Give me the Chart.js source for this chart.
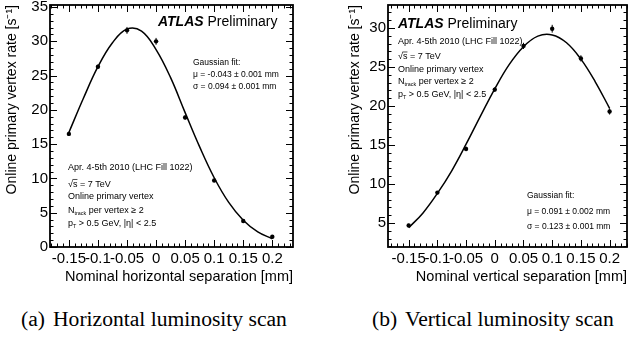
<!DOCTYPE html>
<html>
<head>
<meta charset="utf-8">
<script src="https://cdn.jsdelivr.net/npm/chart.js@4"></script>
<style>
  body { margin:0; width:631px; height:337px; background:#fff; position:relative; overflow:hidden; }
  .panel { position:absolute; top:0; height:290px; }
  .cap { position:absolute; top:309px; font-family:"Liberation Serif", serif; font-size:21.6px; line-height:21px; white-space:nowrap; color:#000; }
</style>
</head>
<body>
<div class="panel" style="left:0;width:315px"><canvas id="hscan"></canvas></div>
<div class="panel" style="left:320px;width:311px"><canvas id="vscan"></canvas></div>
<div class="cap" style="left:21px">(a)</div>
<div class="cap" style="left:53px">Horizontal luminosity scan</div>
<div class="cap" style="left:372px">(b)</div>
<div class="cap" style="left:405px">Vertical luminosity scan</div>
<script>
// beam separation steps [mm]
const sep = [-0.15, -0.1, -0.05, 0, 0.05, 0.1, 0.15, 0.2];
const xTicks = [-0.15, -0.1, -0.05, 0, 0.05, 0.1, 0.15, 0.2];

// horizontal scan
const hRate = [16.5, 26.3, 31.6, 30.0, 18.9, 9.7, 3.8, 1.5];
const hErr = [0.3, 0.3, 0.5, 0.5, 0.3, 0.2, 0.2, 0.2];
const fitSep = [-0.15, -0.125, -0.1, -0.075, -0.05, -0.025, 0, 0.025, 0.05, 0.075, 0.1, 0.125, 0.15, 0.175, 0.2];
const hFit = [16.7, 21.7, 26.3, 29.8, 31.8, 31.5, 28.8, 24.7, 19.6, 14.6, 10.1, 6.5, 3.9, 2.2, 1.2];
const hYTicks = [0, 5, 10, 15, 20, 25, 30, 35];

// vertical scan
const vRate = [4.7, 8.9, 14.5, 22.1, 27.7, 29.9, 26.1, 19.3];
const vErr = [0.2, 0.2, 0.3, 0.3, 0.4, 0.5, 0.4, 0.4];
const vFit = [4.4, 6.3, 8.8, 11.7, 15.1, 18.7, 22.2, 25.3, 27.6, 28.95, 29.1, 28.1, 26.0, 23.1, 19.7];
const vYTicks = [5, 10, 15, 20, 25, 30];

const SANS = '"Liberation Sans", Arial, sans-serif';

const runInfo = [
    [{t: 'Apr. 4-5th 2010 (LHC Fill 1022)'}],
    [{t: '\u221As', over: true}, {t: ' = 7 TeV'}],
    [{t: 'Online primary vertex'}],
    [{t: 'N'}, {t: 'track', sub: true}, {t: ' per vertex \u2265 2'}],
    [{t: 'p'}, {t: 'T', sub: true}, {t: ' > 0.5 GeV, |\u03B7| < 2.5'}]
];

function drawLine(ctx, segs, x, y, size) {
    segs.forEach(s => {
        const fs = s.sub ? size * 0.6 : size;
        ctx.font = fs + 'px ' + SANS;
        const dy = s.sub ? size * 0.25 : 0;
        ctx.fillText(s.t, x, y + dy);
        const w = ctx.measureText(s.t).width;
        if (s.over) {
            const r = ctx.measureText('\u221A').width;
            ctx.lineWidth = 0.7;
            ctx.beginPath();
            ctx.moveTo(x + r - 0.5, y - size * 0.78);
            ctx.lineTo(x + w, y - size * 0.78);
            ctx.stroke();
        }
        x += w;
    });
}

const rootFrame = {
    id: 'rootFrame',
    afterDatasetsDraw(chart, args, o) {
        const {ctx, chartArea: a, scales: {x, y}} = chart;
        ctx.save();
        ctx.strokeStyle = '#000';
        ctx.fillStyle = '#000';

        // error bars
        ctx.lineWidth = 1;
        o.rate.forEach((v, i) => {
            const px = x.getPixelForValue(sep[i]);
            ctx.beginPath();
            ctx.moveTo(px, y.getPixelForValue(v - o.err[i]));
            ctx.lineTo(px, y.getPixelForValue(v + o.err[i]));
            ctx.stroke();
        });

        // inward ticks on all four sides
        ctx.lineWidth = 1;
        ctx.beginPath();
        for (let k = Math.ceil(x.min / 0.01); k <= Math.floor(x.max / 0.01); k++) {
            const px = Math.round(x.getPixelForValue(k * 0.01)) + 0.5;
            const len = k % 5 === 0 ? 7 : 3.5;
            ctx.moveTo(px, a.bottom); ctx.lineTo(px, a.bottom - len);
            ctx.moveTo(px, a.top); ctx.lineTo(px, a.top + len);
        }
        for (let k = Math.ceil(y.min); k <= Math.floor(y.max); k++) {
            const py = Math.round(y.getPixelForValue(k)) + 0.5;
            const len = k % 5 === 0 ? 7 : 3.5;
            ctx.moveTo(a.left, py); ctx.lineTo(a.left + len, py);
            ctx.moveTo(a.right, py); ctx.lineTo(a.right - len, py);
        }
        ctx.stroke();

        ctx.lineWidth = 1.8;
        ctx.strokeRect(a.left, a.top, a.right - a.left, a.bottom - a.top);

        // ATLAS label
        let tx = a.left + o.atlas[0], ty = a.top + o.atlas[1];
        ctx.font = 'italic bold 14px ' + SANS;
        ctx.fillText('ATLAS', tx, ty);
        tx += ctx.measureText('ATLAS ').width;
        ctx.font = '14px ' + SANS;
        ctx.fillText('Preliminary', tx, ty);

        // run conditions
        runInfo.forEach((line, i) => {
            drawLine(ctx, line, a.left + o.info[0], a.top + o.info[1][i], 9);
        });

        // fit result
        o.fit.text.forEach((t, i) => {
            drawLine(ctx, [{t: t}], a.left + o.fit.pos[0], a.top + o.fit.pos[1][i], 8.5);
        });
        ctx.restore();
    }
};

function makeChart(id, cfg) {
    new Chart(document.getElementById(id), {
        type: 'scatter',
        data: {
            datasets: [
                {
                    data: fitSep.map((s, i) => ({x: s, y: cfg.fit[i]})),
                    showLine: true,
                    borderColor: '#000',
                    borderWidth: 1.5,
                    pointRadius: 0,
                    tension: 0.4
                },
                {
                    data: sep.map((s, i) => ({x: s, y: cfg.rate[i]})),
                    backgroundColor: '#000',
                    borderColor: '#000',
                    pointRadius: 2.2,
                    pointBorderWidth: 0
                }
            ]
        },
        options: {
            responsive: true,
            maintainAspectRatio: false,
            animation: false,
            layout: {padding: cfg.padding},
            plugins: {
                legend: {display: false},
                tooltip: {enabled: false},
                rootFrame: cfg.labels
            },
            scales: {
                x: {
                    type: 'linear',
                    min: cfg.xRange[0],
                    max: cfg.xRange[1],
                    grid: {display: false, drawTicks: false},
                    border: {display: false},
                    afterBuildTicks: s => { s.ticks = xTicks.map(v => ({value: v})); },
                    afterFit: s => { s.height = 43; s.paddingLeft = 0; s.paddingRight = 0; },
                    ticks: {
                        color: '#000', padding: 3, maxRotation: 0, autoSkip: false,
                        font: {family: SANS, size: 15},
                        callback: v => String(v)
                    },
                    title: {
                        display: true, text: cfg.xTitle, align: 'end', color: '#000',
                        font: {family: SANS, size: 14.5}, padding: {top: 0, bottom: 4}
                    }
                },
                y: {
                    type: 'linear',
                    min: cfg.yRange[0],
                    max: cfg.yRange[1],
                    grid: {display: false, drawTicks: false},
                    border: {display: false},
                    afterBuildTicks: s => { s.ticks = cfg.yTicks.map(v => ({value: v})); },
                    afterFit: s => { s.width = cfg.yWidth; s.paddingTop = 0; s.paddingBottom = 0; },
                    ticks: {
                        color: '#000', padding: 2,
                        font: {family: SANS, size: 15}
                    },
                    title: {
                        display: true, text: 'Online primary vertex rate [s\u207B\u00B9]', align: 'end', color: '#000',
                        font: {family: SANS, size: 14}, padding: {top: 4, bottom: 0}
                    }
                }
            }
        },
        plugins: [rootFrame]
    });
}

makeChart('hscan', {
    rate: hRate,
    fit: hFit,
    xRange: [-0.1825, 0.2356],
    yRange: [0, 35.3],
    yTicks: hYTicks,
    yWidth: 50,
    padding: {left: 0, top: 5, right: 22, bottom: 0},
    xTitle: 'Nominal horizontal separation [mm]',
    labels: {
        rate: hRate, err: hErr,
        atlas: [108, 21],
        info: [18, [165, 181.5, 194, 207.5, 220.5]],
        fit: {pos: [143, [60, 71.5, 83.5]], text: ['Gaussian fit:', '\u03BC = -0.043 \u00B1 0.001 mm', '\u03C3 = 0.094 \u00B1 0.001 mm']}
    }
});

makeChart('vscan', {
    rate: vRate,
    fit: vFit,
    xRange: [-0.186, 0.2303],
    yRange: [1.93, 32.94],
    yTicks: vYTicks,
    yWidth: 45,
    padding: {left: 23, top: 5, right: 1, bottom: 0},
    xTitle: 'Nominal vertical separation [mm]',
    labels: {
        rate: vRate, err: vErr,
        atlas: [10, 23],
        info: [10, [38.5, 54, 66.5, 79, 92]],
        fit: {pos: [139, [193, 209, 224]], text: ['Gaussian fit:', '\u03BC = 0.091 \u00B1 0.002 mm', '\u03C3 = 0.123 \u00B1 0.001 mm']}
    }
});
</script>
</body>
</html>
